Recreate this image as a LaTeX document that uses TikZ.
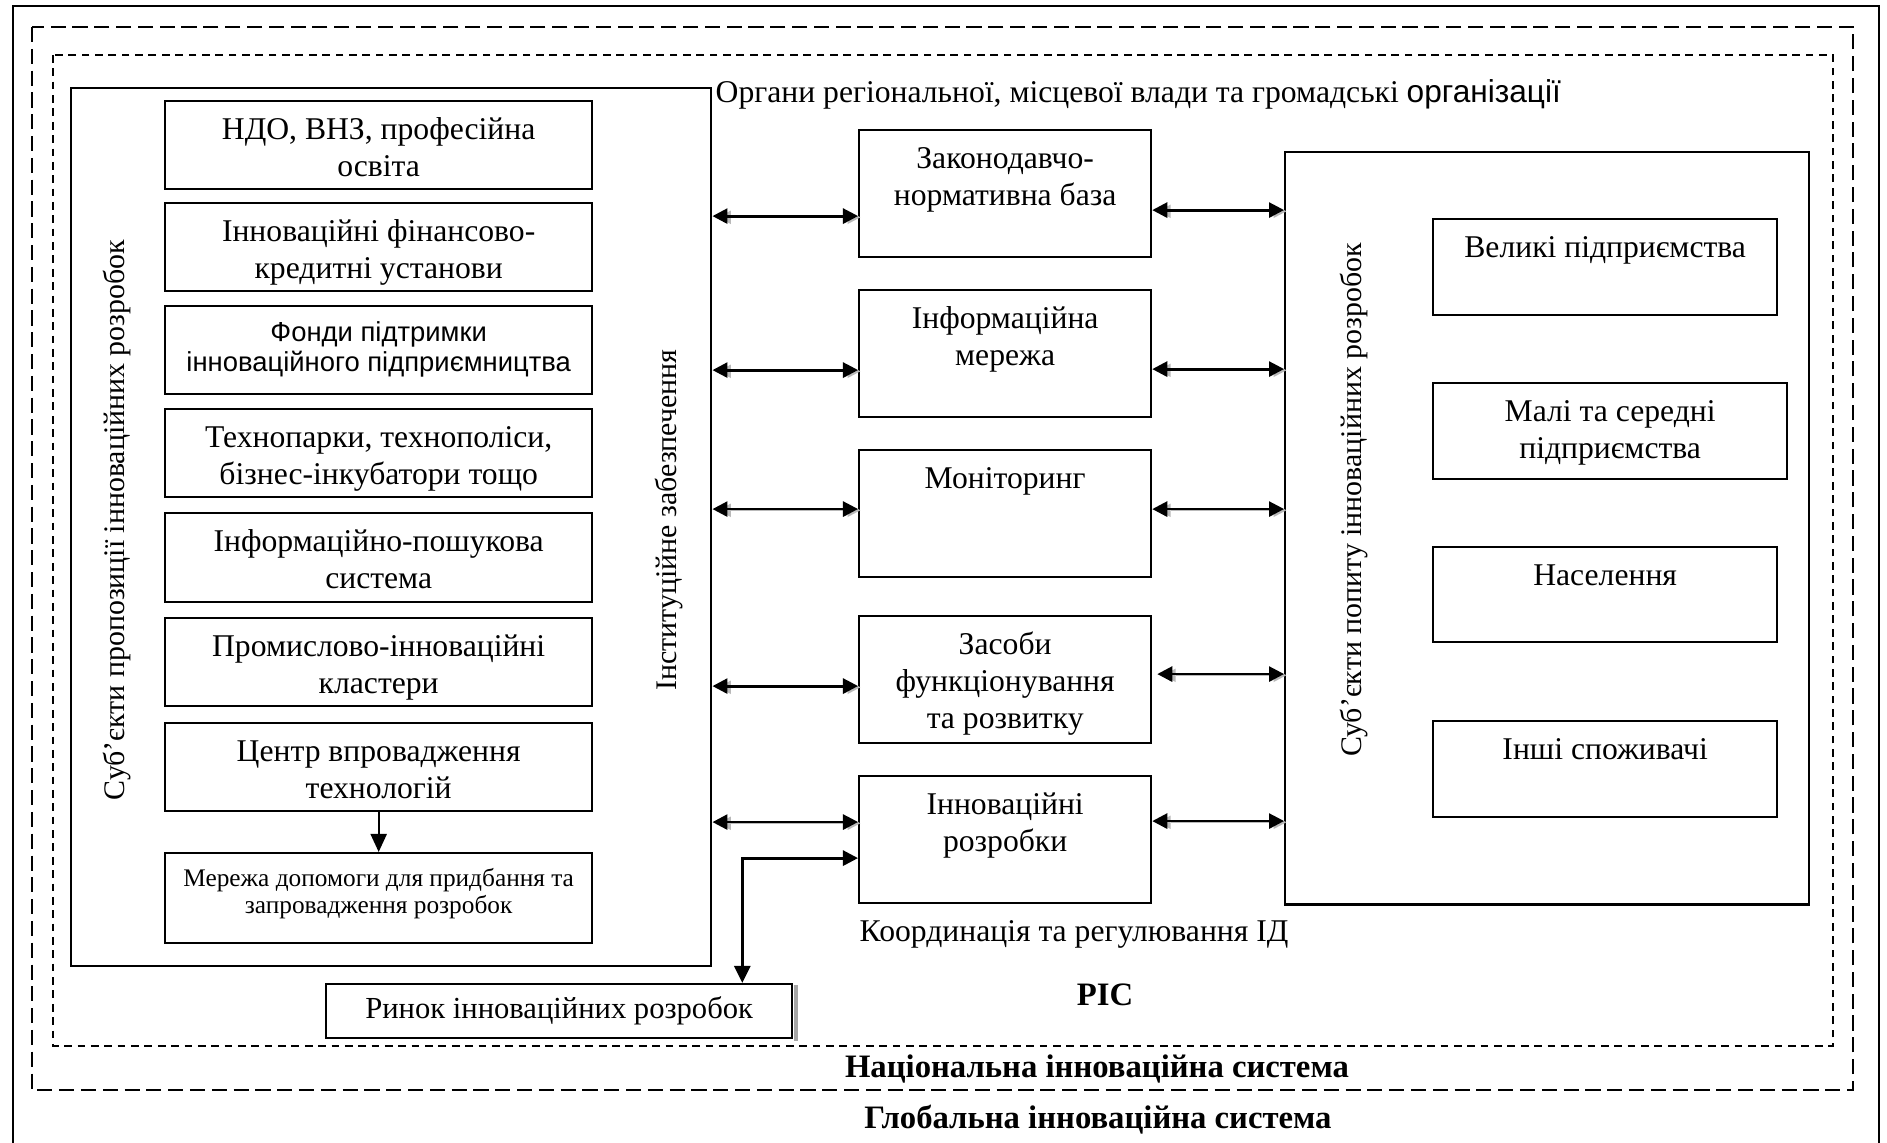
\documentclass[tikz,border=0pt]{standalone}
\usepackage{fontspec}
\setmainfont{Liberation Serif}
\newfontfamily\arialfont{Liberation Sans}
\usetikzlibrary{arrows.meta}

% box text: font, width, height, top padding, lines
\newcommand\boxtext[5]{\parbox[c][#3][t]{#2}{#1\centering\vspace*{#4}\strut#5\par}}

\begin{document}
\begin{tikzpicture}[x=0.01cm,y=-0.01cm,
  font=\fontsize{9pt}{10.5pt}\selectfont,
  box/.style={draw, line width=0.6pt, inner sep=0pt, anchor=north west},
  bigbox/.style={draw, line width=0.6pt, inner sep=0pt, anchor=north west},
  natframe/.style={line width=0.7pt, dash pattern=on 4.3pt off 1.9pt},
  risframe/.style={line width=0.7pt, dash pattern=on 2.2pt off 1.6pt},
  sidelabel/.style={rotate=90, inner sep=0pt, font=\fontsize{8.5pt}{10pt}\selectfont},
  link/.style={line width=0.8pt, {Triangle[length=0.15cm,width=0.15cm]}-{Triangle[length=0.15cm,width=0.15cm]},
    preaction={draw=gray!55, transform canvas={shift={(0.04cm,-0.012cm)}}}},
  downarrow/.style={line width=0.6pt, -{Triangle[length=0.18cm,width=0.16cm]}},
  heading/.style={font=\fontsize{9.3pt}{11pt}\selectfont\bfseries, inner sep=0pt, anchor=base},
  lbl/.style={inner sep=0pt, anchor=base west}
]
\useasboundingbox (0,0) rectangle (1887,1143);

% nested system frames
\draw[line width=0.7pt] (13,1170) rectangle (1879,6);
\draw[natframe] (32,27) rectangle (1853,1090);
\draw[risframe] (53,55) rectangle (1833,1046);

% supply side
\node[bigbox, minimum width=6.40cm, minimum height=8.77cm] (supply) at (70,87) {};
\node[sidelabel] (supplylbl) at (117,520) {Суб’єкти пропозиції інноваційних розробок};
\node[sidelabel] (instlbl) at (669,520) {Інституційне забезпечення};

\node[box] (ndo)  at (164,100) {\boxtext{}{4.27cm}{0.88cm}{0.13cm}{НДО, ВНЗ, професійна\\освіта}};
\node[box] (fin)  at (164,202) {\boxtext{}{4.27cm}{0.88cm}{0.13cm}{Інноваційні фінансово-\\кредитні установи}};
\node[box] (fond) at (164,305) {\boxtext{\arialfont\fontsize{7.8pt}{8.5pt}\selectfont}{4.27cm}{0.88cm}{0.15cm}{Фонди підтримки\\інноваційного підприємництва}};
\node[box] (tech) at (164,408) {\boxtext{}{4.27cm}{0.88cm}{0.13cm}{Технопарки, технополіси,\\бізнес-інкубатори тощо}};
\node[box] (ips)  at (164,512) {\boxtext{}{4.27cm}{0.89cm}{0.13cm}{Інформаційно-пошукова\\система}};
\node[box] (pik)  at (164,617) {\boxtext{}{4.27cm}{0.88cm}{0.13cm}{Промислово-інноваційні\\кластери}};
\node[box] (cvt)  at (164,722) {\boxtext{}{4.27cm}{0.88cm}{0.13cm}{Центр впровадження\\технологій}};
\node[box] (mer)  at (164,852) {\boxtext{\fontsize{7.2pt}{7.7pt}\selectfont}{4.27cm}{0.90cm}{0.14cm}{Мережа допомоги для придбання та\\запровадження розробок}};

\draw[downarrow] (cvt.south) -- (mer.north);

% header and central column
\node[lbl] (hdr) at (715,103) {Органи регіональної, місцевої влади та громадські {\arialfont організації}};

\node[box] (zak) at (858,129) {\boxtext{}{2.92cm}{1.27cm}{0.13cm}{Законодавчо-\\нормативна база}};
\node[box] (inf) at (858,289) {\boxtext{}{2.92cm}{1.27cm}{0.13cm}{Інформаційна\\мережа}};
\node[box] (mon) at (858,449) {\boxtext{}{2.92cm}{1.27cm}{0.13cm}{Моніторинг}};
\node[box] (zas) at (858,615) {\boxtext{}{2.92cm}{1.27cm}{0.13cm}{Засоби\\функціонування\\та розвитку}};
\node[box] (inn) at (858,775) {\boxtext{}{2.92cm}{1.27cm}{0.13cm}{Інноваційні\\розробки}};

\node[lbl] (coord) at (859,942) {Координація та регулювання ІД};

% demand side
\node[bigbox, minimum width=5.24cm, minimum height=7.52cm] (demand) at (1284,151) {};
\node[sidelabel] (demandlbl) at (1354,500) {Суб’єкти попиту інноваційних розробок};

\node[box] (vel)  at (1432,218) {\boxtext{}{3.44cm}{0.96cm}{0.13cm}{Великі підприємства}};
\node[box] (mal)  at (1432,382) {\boxtext{}{3.54cm}{0.96cm}{0.13cm}{Малі та середні\\підприємства}};
\node[box] (nas)  at (1432,546) {\boxtext{}{3.44cm}{0.95cm}{0.13cm}{Населення}};
\node[box] (insh) at (1432,720) {\boxtext{}{3.44cm}{0.96cm}{0.13cm}{Інші споживачі}};

% connector anchors on the central boxes
\coordinate (zakL) at ([yshift=-0.225cm]zak.west);
\coordinate (infL) at ([yshift=-0.165cm]inf.west);
\coordinate (monL) at ([yshift=0.045cm]mon.west);
\coordinate (zasL) at ([yshift=-0.065cm]zas.west);
\coordinate (innL) at ([yshift=0.175cm]inn.west);
\coordinate (zakR) at ([yshift=-0.165cm]zak.east);
\coordinate (infR) at ([yshift=-0.155cm]inf.east);
\coordinate (monR) at ([yshift=0.045cm]mon.east);
\coordinate (zasR) at ([xshift=0.05cm,yshift=0.055cm]zas.east);
\coordinate (innR) at ([yshift=0.185cm]inn.east);

\draw[link] (supply.east |- zakL) -- (zakL);
\draw[link] (supply.east |- infL) -- (infL);
\draw[link] (supply.east |- monL) -- (monL);
\draw[link] (supply.east |- zasL) -- (zasL);
\draw[link] (supply.east |- innL) -- (innL);

\draw[link] (zakR) -- (demand.west |- zakR);
\draw[link] (infR) -- (demand.west |- infR);
\draw[link] (monR) -- (demand.west |- monR);
\draw[link] (zasR) -- (demand.west |- zasR);
\draw[link] (innR) -- (demand.west |- innR);

% market of innovations
\node[box, minimum width=4.66cm, minimum height=0.54cm, font=\fontsize{8.7pt}{10pt}\selectfont] (rynok) at (325,983) {Ринок інноваційних розробок};
\draw[gray!70, line width=1.1pt] ([xshift=0.025cm,yshift=-0.02cm]rynok.north east) -- ([xshift=0.025cm,yshift=-0.02cm]rynok.south east);

\coordinate (innM) at ([yshift=-0.185cm]inn.west);
\coordinate (rynokT) at ([xshift=1.83cm]rynok.north);
\draw[line width=0.8pt, {Triangle[length=0.17cm,width=0.16cm]}-{Triangle[length=0.15cm,width=0.15cm]}] (rynokT) |- (innM);

% system titles
\node[heading] (ris) at (1105,1005) {РІС};
\node[heading] (nis) at (1097,1077) {Національна інноваційна система};
\node[heading] (gis) at (1098,1128) {Глобальна інноваційна система};
\end{tikzpicture}
\end{document}
